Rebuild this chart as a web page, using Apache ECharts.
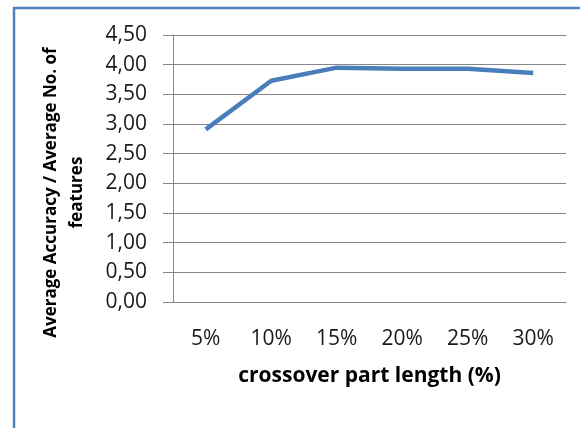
<!DOCTYPE html>
<html>
<head>
<meta charset="utf-8">
<script src="https://cdn.jsdelivr.net/npm/echarts@6/dist/echarts.min.js"></script>
<style>
html,body{margin:0;padding:0;background:#fff;}
#chart{width:580px;height:428px;}
</style>
</head>
<body>
<div id="chart"></div>
<script>
var categories = ['5%', '10%', '15%', '20%', '25%', '30%'];
var values = [2.91, 3.73, 3.95, 3.93, 3.93, 3.86];
var yTicks = { min: 0, max: 4.5, interval: 0.5 };
var xTitle = 'crossover part length (%)';
var yTitle = 'Average Accuracy / Average No. of\nfeatures';

var chart = echarts.init(document.getElementById('chart'), null, { renderer: 'canvas' });
chart.setOption({
  animation: false,
  backgroundColor: '#ffffff',
  graphic: [{
    type: 'rect',
    shape: { x: 14, y: 8, width: 600, height: 460 },
    style: { fill: 'none', stroke: '#4F81BD', lineWidth: 2.5 },
    silent: true
  }],
  grid: { left: 173, right: 14, top: 35, bottom: 126, containLabel: false, outerBoundsMode: 'none' },
  xAxis: {
    type: 'category',
    data: categories,
    boundaryGap: true,
    axisLine: { show: true, lineStyle: { color: '#878787', width: 1 } },
    axisTick: { show: false },
    axisLabel: { margin: 27, color: '#1a1a1a', fontFamily: 'Open Sans', fontSize: 21 },
    name: xTitle,
    nameLocation: 'middle',
    nameGap: 64,
    nameTextStyle: { color: '#000', fontFamily: 'Open Sans', fontWeight: 'bold', fontSize: 21 }
  },
  yAxis: {
    type: 'value',
    min: yTicks.min,
    max: yTicks.max,
    interval: yTicks.interval,
    axisLine: { show: true, lineStyle: { color: '#878787', width: 1 } },
    axisTick: { show: true, inside: false, length: 10, lineStyle: { color: '#878787' } },
    splitLine: { show: true, lineStyle: { color: '#878787', width: 1 } },
    axisLabel: {
      margin: 26, color: '#1a1a1a', fontFamily: 'Open Sans', fontSize: 21,
      formatter: function (v) { return v.toFixed(2).replace('.', ','); }
    },
    name: yTitle,
    nameLocation: 'middle',
    nameGap: 83,
    nameRotate: 90,
    nameTextStyle: {
      color: '#000', fontFamily: 'Open Sans', fontWeight: 'bold', fontSize: 17,
      lineHeight: 26, align: 'center', padding: [0, 48, 0, 0]
    }
  },
  series: [{
    type: 'line',
    data: values,
    symbol: 'none',
    lineStyle: { color: '#4A7EBB', width: 4.5 },
    itemStyle: { color: '#4A7EBB' }
  }]
});
</script>
</body>
</html>
